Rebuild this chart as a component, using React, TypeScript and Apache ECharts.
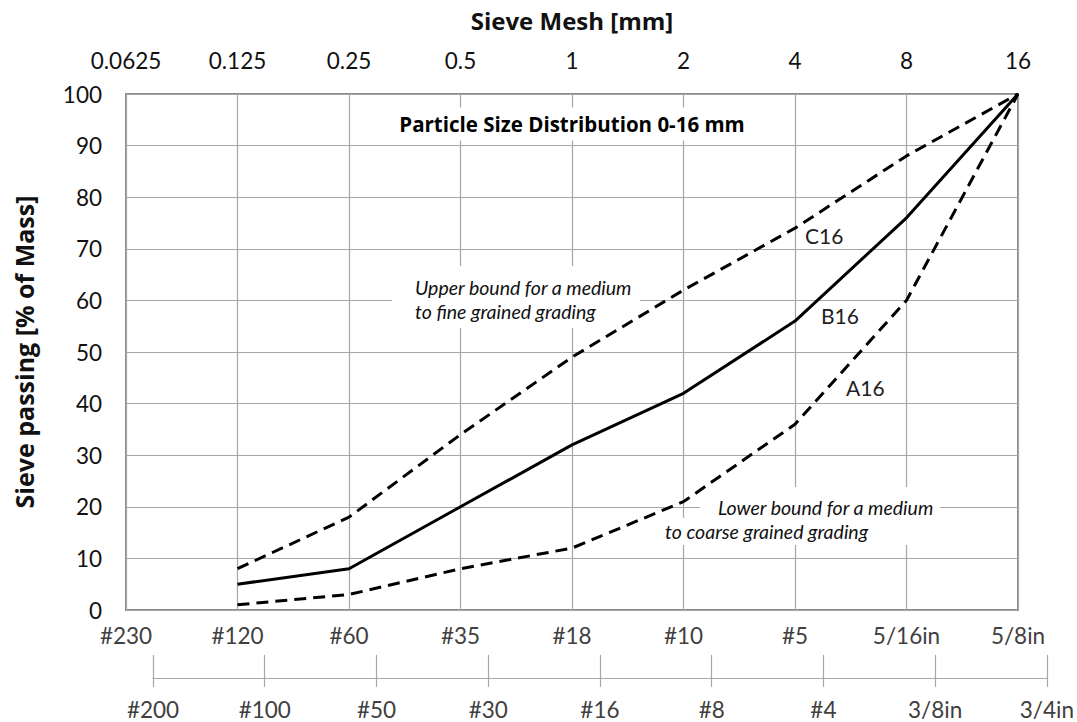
import { useEffect, useRef } from 'react';
import * as echarts from 'echarts';

// Sieve mesh ticks (mm), one per octave
const sieveSizesMm = [0.0625, 0.125, 0.25, 0.5, 1, 2, 4, 8, 16];
const topTickLabels = ['0.0625', '0.125', '0.25', '0.5', '1', '2', '4', '8', '16'];
const bottomTickLabels = ['#230', '#120', '#60', '#35', '#18', '#10', '#5', '5/16in', '5/8in'];
const secondTickLabels = ['#200', '#100', '#50', '#30', '#16', '#8', '#4', '3/8in', '3/4in'];

// Grading curves
const curveSizesMm = [0.125, 0.25, 0.5, 1, 2, 4, 8, 16];
const a16Values = [1, 3, 8, 12, 21, 36, 60, 100];
const b16Values = [5, 8, 20, 32, 42, 56, 76, 100];
const c16Values = [8, 18, 34, 49, 62, 74, 88, 100];

const FONT = 'Lato, "Noto Sans", sans-serif';
const BOLD_FONT = '"Open Sans", "Noto Sans", sans-serif';
const GRID_COLOR = '#a6a6a6';
const TICK_SIZE = 22.5;

const toPoints = (vals: number[]) => curveSizesMm.map((s, i) => [Math.log2(s), vals[i]]);
const labelAt = (arr: string[], offset: number) => (v: number) => arr[Math.round(v) + offset] ?? '';

export default function App() {
  const ref = useRef<HTMLDivElement>(null);
  useEffect(() => {
    if (!ref.current) return;
    const chart = echarts.init(ref.current, null, { renderer: 'svg' });
    const minExp = Math.log2(sieveSizesMm[0]);
    const maxExp = Math.log2(sieveSizesMm[sieveSizesMm.length - 1]);
    const dashed = { color: '#000', width: 3, type: [12, 7] as any, cap: 'butt' as const };
    const italic = { align: 'left', verticalAlign: 'middle', fontFamily: FONT, fontStyle: 'italic', fontSize: 19.5, fill: '#111' };
    const curveLabel = { align: 'left', verticalAlign: 'middle', fontFamily: FONT, fontSize: 21, fill: '#222' };
    chart.setOption({
      animation: false,
      backgroundColor: '#fff',
      textStyle: { fontFamily: FONT },
      grid: [
        { left: 126, top: 94, width: 892, height: 516, show: true, borderColor: '#8c8c8c', borderWidth: 2, backgroundColor: 'transparent' },
        { left: 153, top: 655, width: 894, height: 23 },
      ],
      xAxis: [
        {
          gridIndex: 0, type: 'value', position: 'top', min: minExp, max: maxExp, interval: 1,
          name: 'Sieve Mesh [mm]', nameLocation: 'middle', nameGap: 62,
          nameTextStyle: { fontFamily: BOLD_FONT, fontWeight: 'bold', fontSize: 24, color: '#111' },
          axisLine: { show: false },
          axisTick: { show: true, length: 5, lineStyle: { color: GRID_COLOR } },
          axisLabel: { formatter: labelAt(topTickLabels, 4), fontSize: TICK_SIZE, color: '#111', margin: 22, fontFamily: FONT },
          splitLine: { show: true, lineStyle: { color: GRID_COLOR, width: 1.2 } },
        },
        {
          gridIndex: 0, type: 'value', position: 'bottom', min: minExp, max: maxExp, interval: 1,
          axisLine: { show: false }, axisTick: { show: false }, splitLine: { show: false },
          axisLabel: { formatter: labelAt(bottomTickLabels, 4), fontSize: TICK_SIZE, color: '#404040', margin: 14, fontFamily: FONT },
        },
        {
          gridIndex: 1, type: 'value', position: 'bottom', min: 0, max: secondTickLabels.length - 1, interval: 1,
          axisLine: { show: true, lineStyle: { color: GRID_COLOR, width: 1.2 } },
          axisTick: { show: true, length: 9, lineStyle: { color: GRID_COLOR, width: 1.2 } },
          splitLine: { show: true, lineStyle: { color: GRID_COLOR, width: 1.2 } },
          axisLabel: { formatter: labelAt(secondTickLabels, 0), fontSize: TICK_SIZE, color: '#404040', margin: 20, fontFamily: FONT },
        },
      ],
      yAxis: [
        {
          gridIndex: 0, type: 'value', min: 0, max: 100, interval: 10,
          name: 'Sieve passing [% of Mass]', nameLocation: 'middle', nameGap: 90, nameRotate: 90,
          nameTextStyle: { fontFamily: BOLD_FONT, fontWeight: 'bold', fontSize: 25, color: '#111' },
          axisLine: { show: false },
          axisTick: { show: true, length: 7, lineStyle: { color: GRID_COLOR } },
          axisLabel: { fontSize: TICK_SIZE, color: '#111', margin: 24, fontFamily: FONT },
          splitLine: { show: true, lineStyle: { color: GRID_COLOR, width: 1.2 } },
        },
        { gridIndex: 1, type: 'value', min: 0, max: 1, show: false, splitLine: { show: false } },
      ],
      series: [
        { name: 'C16', type: 'line', xAxisIndex: 0, yAxisIndex: 0, data: toPoints(c16Values), symbol: 'none', lineStyle: dashed, z: 5 },
        { name: 'B16', type: 'line', xAxisIndex: 0, yAxisIndex: 0, data: toPoints(b16Values), symbol: 'none', lineStyle: { color: '#000', width: 3 }, z: 5 },
        { name: 'A16', type: 'line', xAxisIndex: 0, yAxisIndex: 0, data: toPoints(a16Values), symbol: 'none', lineStyle: dashed, z: 5 },
      ],
      graphic: [
        {
          type: 'text', x: 572, y: 124, z: 10,
          style: {
            text: 'Particle Size Distribution 0-16 mm', align: 'center', verticalAlign: 'middle',
            fontFamily: BOLD_FONT, fontWeight: 'bold', fontSize: 20.5, fill: '#000',
            backgroundColor: '#fff', padding: [6, 10],
          },
        },
        { type: 'rect', shape: { x: 392, y: 266, width: 248, height: 62 }, style: { fill: '#fff' }, z: 1 },
        { type: 'text', x: 415, y: 287, z: 11, style: { ...italic, text: 'Upper bound for a medium' } },
        { type: 'text', x: 415, y: 311, z: 11, style: { ...italic, text: 'to fine grained grading' } },
        { type: 'rect', shape: { x: 700, y: 487, width: 240, height: 58 }, style: { fill: '#fff' }, z: 1 },
        { type: 'rect', shape: { x: 660, y: 518, width: 45, height: 27 }, style: { fill: '#fff' }, z: 1 },
        { type: 'text', x: 718, y: 507, z: 11, style: { ...italic, text: 'Lower bound for a medium' } },
        { type: 'text', x: 665, y: 531, z: 11, style: { ...italic, text: 'to coarse grained grading' } },
        { type: 'text', x: 805, y: 235, z: 11, style: { ...curveLabel, text: 'C16' } },
        { type: 'text', x: 821, y: 315, z: 11, style: { ...curveLabel, text: 'B16' } },
        { type: 'text', x: 846, y: 387, z: 11, style: { ...curveLabel, text: 'A16' } },
      ],
    });
    return () => chart.dispose();
  }, []);
  return <div ref={ref} style={{ position: 'fixed', left: 0, top: 0, width: 1077, height: 722 }} />;
}
